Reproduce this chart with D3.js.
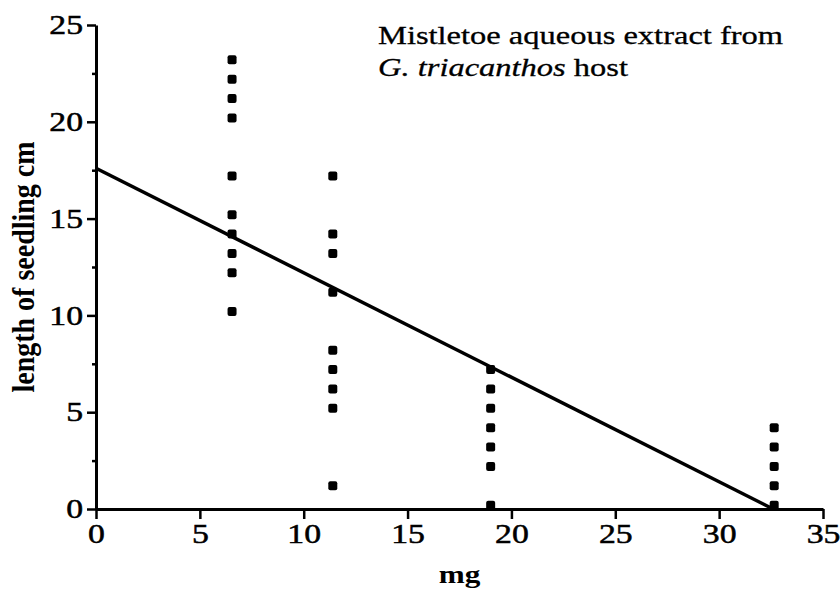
<!DOCTYPE html>
<html><head><meta charset="utf-8">
<script src="https://cdn.jsdelivr.net/npm/d3@7"></script>
<style>body{margin:0;background:#fff}svg{display:block}text{font-family:"Liberation Serif","Times New Roman",serif;fill:#000}</style>
</head><body>
<script>
const doseMg = [6.55, 11.4, 19.0, 32.65];
const lengthsAt6 = [23.2, 22.2, 21.2, 20.2, 17.2, 15.2, 14.2, 13.2, 12.2, 10.2];
const lengthsAt11 = [17.2, 14.2, 13.2, 11.2, 8.2, 7.2, 6.2, 5.2, 1.2];
const lengthsAt19 = [7.2, 6.2, 5.2, 4.2, 3.2, 2.2, 0.2];
const lengthsAt33 = [4.2, 3.2, 2.2, 1.2, 0.2];
const fitLine = [[0, 17.6], [32.6, 0]];
const xTicks = [0, 5, 10, 15, 20, 25, 30, 35];
const yTicks = [0, 5, 10, 15, 20, 25];
const yMinor = [2.5, 7.5, 12.5, 17.5, 22.5];

const W = 840, H = 599;
const SX = 1.25; // horizontal stretch of the lettering in the original
const svg = d3.select("body").append("svg").attr("width", W).attr("height", H);
const x = d3.scaleLinear().domain([0, 35]).range([96, 823]);
const y = d3.scaleLinear().domain([0, 25]).range([509, 25]);

const pts = [];
[lengthsAt6, lengthsAt11, lengthsAt19, lengthsAt33].forEach((arr, i) => arr.forEach(v => pts.push([doseMg[i], v])));

// axes
svg.append("g").attr("class", "xa").attr("transform", `translate(0,${y(0)})`)
  .call(d3.axisBottom(x).tickValues(xTicks).tickSize(10).tickPadding(5).tickSizeOuter(0));
svg.append("g").attr("class", "ya").attr("transform", `translate(${x(0)},0)`)
  .call(d3.axisLeft(y).tickValues(yTicks).tickSize(9).tickPadding(3).tickSizeOuter(0));
svg.append("g").attr("transform", `translate(${x(0)},0)`)
  .call(d3.axisLeft(y).tickValues(yMinor).tickSize(4).tickFormat("").tickSizeOuter(0))
  .select(".domain").remove();
svg.selectAll(".domain").attr("stroke", "#000").attr("stroke-width", 3);
svg.selectAll(".tick line").attr("stroke", "#000").attr("stroke-width", 2.5);
svg.selectAll(".tick text").attr("font-size", 27).attr("font-family", "Liberation Serif")
  .attr("fill", "#000").attr("stroke", "#000").attr("stroke-width", 0.5);
svg.selectAll(".xa .tick text").attr("transform", `scale(${SX},1)`);
svg.selectAll(".ya .tick text").attr("x", -13 / SX).attr("transform", `scale(${SX},1)`);

// fit line
svg.append("path").datum(fitLine)
  .attr("d", d3.line().x(d => x(d[0])).y(d => y(d[1])))
  .attr("stroke", "#000").attr("stroke-width", 3.5).attr("fill", "none");

// points
svg.append("g").selectAll("rect").data(pts).join("rect")
  .attr("x", d => x(d[0]) - 4.5).attr("y", d => y(d[1]) - 4.5)
  .attr("width", 9).attr("height", 9).attr("rx", 2).attr("fill", "#000");

// labels
svg.append("text").attr("transform", `translate(${(x(0) + x(35)) / 2},583) scale(1.2,1)`)
  .attr("text-anchor", "middle").attr("font-size", 26).attr("font-weight", "bold").text("mg");
svg.append("text").attr("transform", `translate(34,${y(12.5)}) scale(1.1,1) rotate(-90)`)
  .attr("text-anchor", "middle").attr("font-size", 28).attr("font-weight", "bold").text("length of seedling cm");
const title = svg.append("g").attr("stroke", "#000").attr("stroke-width", 0.3);
title.append("text").attr("transform", `translate(378,44) scale(${SX},1)`).attr("font-size", 26)
  .text("Mistletoe aqueous extract from");
const t2 = title.append("text").attr("transform", `translate(378,76) scale(${SX},1)`).attr("font-size", 26);
t2.append("tspan").attr("font-style", "italic").text("G. triacanthos");
t2.append("tspan").text(" host");
</script>
</body></html>
